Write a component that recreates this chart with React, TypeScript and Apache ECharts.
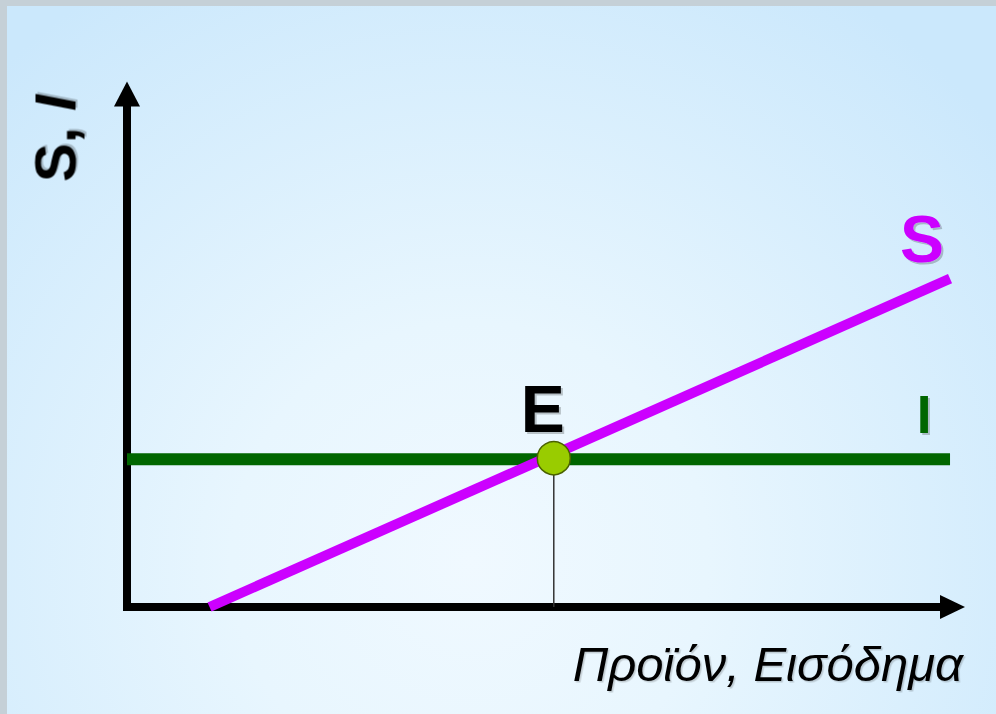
import React, { useEffect, useRef } from "react";
import * as echarts from "echarts";

// Axis ranges (abstract units)
const xRange = [0, 100];
const yRange = [0, 100];

// Savings line S
const savingS = [
  [10, 0],
  [99.7, 64],
];
// Investment line I (horizontal)
const investmentI = [
  [0, 28.8],
  [99.7, 28.8],
];
// Equilibrium point E
const equilibriumE = [51.7, 29];
// Drop line from E to the output axis
const dropLine = [
  [51.7, 0],
  [51.7, 29],
];

const xAxisTitle = "Προϊόν, Εισόδημα";
const yAxisTitleParts = ["S, ", "I"];
const labelS = "S";
const labelI = "I";
const labelE = "E";

const FONT = '"Liberation Sans", Arial, Helvetica, sans-serif';

export default function App() {
  const ref = useRef<HTMLDivElement>(null);

  useEffect(() => {
    if (!ref.current) return;
    const chart = echarts.init(ref.current, null, { renderer: "svg" });

    const shadow = {
      textShadowColor: "rgba(0,0,0,0.22)",
      textShadowBlur: 1.5,
      textShadowOffsetX: 2,
      textShadowOffsetY: 2,
    };

    const option: any = {
      animation: false,
      textStyle: { fontFamily: FONT },
      graphic: [
        {
          type: "rect",
          z: -20,
          silent: true,
          shape: { x: 0, y: 0, width: 996, height: 714 },
          style: { fill: "#c5d0d7" },
        },
        {
          type: "rect",
          z: -19,
          silent: true,
          shape: { x: 7, y: 6, width: 989, height: 708 },
          style: {
            fill: new echarts.graphic.RadialGradient(
              470,
              560,
              680,
              [
                { offset: 0, color: "#f0f9ff" },
                { offset: 0.35, color: "#e8f6fe" },
                { offset: 1, color: "#cbe8fc" },
              ],
              true
            ),
          },
        },
        {
          type: "text",
          x: 54.5,
          y: 138.5,
          rotation: Math.PI / 2,
          silent: true,
          style: {
            text: `{a|${yAxisTitleParts[0]}}{b|${yAxisTitleParts[1]}}`,
            align: "center",
            verticalAlign: "middle",
            fill: "#000",
            rich: {
              a: { fontSize: 58, fontWeight: "bold", fontFamily: FONT, fill: "#000", ...shadow },
              b: { fontSize: 58, fontWeight: "bold", fontStyle: "italic", fontFamily: FONT, fill: "#000", ...shadow },
            },
          },
        },
        {
          type: "text",
          x: 963,
          y: 664,
          silent: true,
          style: {
            text: xAxisTitle,
            fontSize: 49,
            fontStyle: "italic",
            fontFamily: FONT,
            align: "right",
            verticalAlign: "middle",
            fill: "#000",
            textShadowColor: "rgba(0,0,0,0.18)",
            textShadowBlur: 1.5,
            textShadowOffsetX: 1.5,
            textShadowOffsetY: 1.5,
          },
        },
      ],
      grid: { left: 127, right: 43.5, top: 94, bottom: 107, containLabel: false },
      xAxis: {
        type: "value",
        min: xRange[0],
        max: xRange[1],
        axisLine: {
          show: true,
          onZero: false,
          symbol: ["none", "triangle"],
          symbolSize: [24, 25],
          lineStyle: { color: "#000", width: 8, cap: "square" },
        },
        axisTick: { show: false },
        axisLabel: { show: false },
        splitLine: { show: false },
      },
      yAxis: {
        type: "value",
        min: yRange[0],
        max: yRange[1],
        axisLine: {
          show: true,
          onZero: false,
          symbol: ["none", "triangle"],
          symbolSize: [26, 25],
          lineStyle: { color: "#000", width: 8, cap: "square" },
        },
        axisTick: { show: false },
        axisLabel: { show: false },
        splitLine: { show: false },
      },
      series: [
        {
          type: "line",
          data: dropLine,
          symbol: "none",
          silent: true,
          lineStyle: { color: "#333", width: 1.5 },
          z: 2,
        },
        {
          type: "line",
          data: investmentI,
          symbol: "none",
          silent: true,
          lineStyle: { color: "#006600", width: 12 },
          z: 3,
        },
        {
          type: "line",
          data: savingS,
          symbol: "none",
          silent: true,
          lineStyle: { color: "#cc00ff", width: 10 },
          z: 4,
        },
        {
          type: "scatter",
          data: [equilibriumE],
          symbol: "circle",
          symbolSize: 33,
          silent: true,
          itemStyle: { color: "#99cc00", borderColor: "#4a6200", borderWidth: 1.5, opacity: 1 },
          label: {
            show: true,
            formatter: labelE,
            position: "inside",
            offset: [-11, -49],
            fontSize: 66,
            fontWeight: "bold",
            fontFamily: FONT,
            color: "#000",
            opacity: 1,
            ...shadow,
          },
          z: 6,
        },
        {
          type: "scatter",
          data: [savingS[1]],
          symbolSize: 1,
          silent: true,
          itemStyle: { color: "transparent", opacity: 1 },
          label: {
            show: true,
            formatter: labelS,
            position: "inside",
            offset: [-28, -40],
            fontSize: 66,
            fontWeight: "bold",
            fontFamily: FONT,
            color: "#cc00ff",
            opacity: 1,
            ...shadow,
          },
          z: 6,
        },
        {
          type: "scatter",
          data: [investmentI[1]],
          symbolSize: 1,
          silent: true,
          itemStyle: { color: "transparent", opacity: 1 },
          label: {
            show: true,
            formatter: labelI,
            position: "inside",
            offset: [-26, -45],
            fontSize: 53,
            fontWeight: "bold",
            fontFamily: FONT,
            color: "#006600",
            opacity: 1,
            ...shadow,
          },
          z: 6,
        },
      ],
    };

    chart.setOption(option);
    return () => chart.dispose();
  }, []);

  return (
    <div
      ref={ref}
      style={{ position: "absolute", left: 0, top: 0, width: 996, height: 714 }}
    />
  );
}
